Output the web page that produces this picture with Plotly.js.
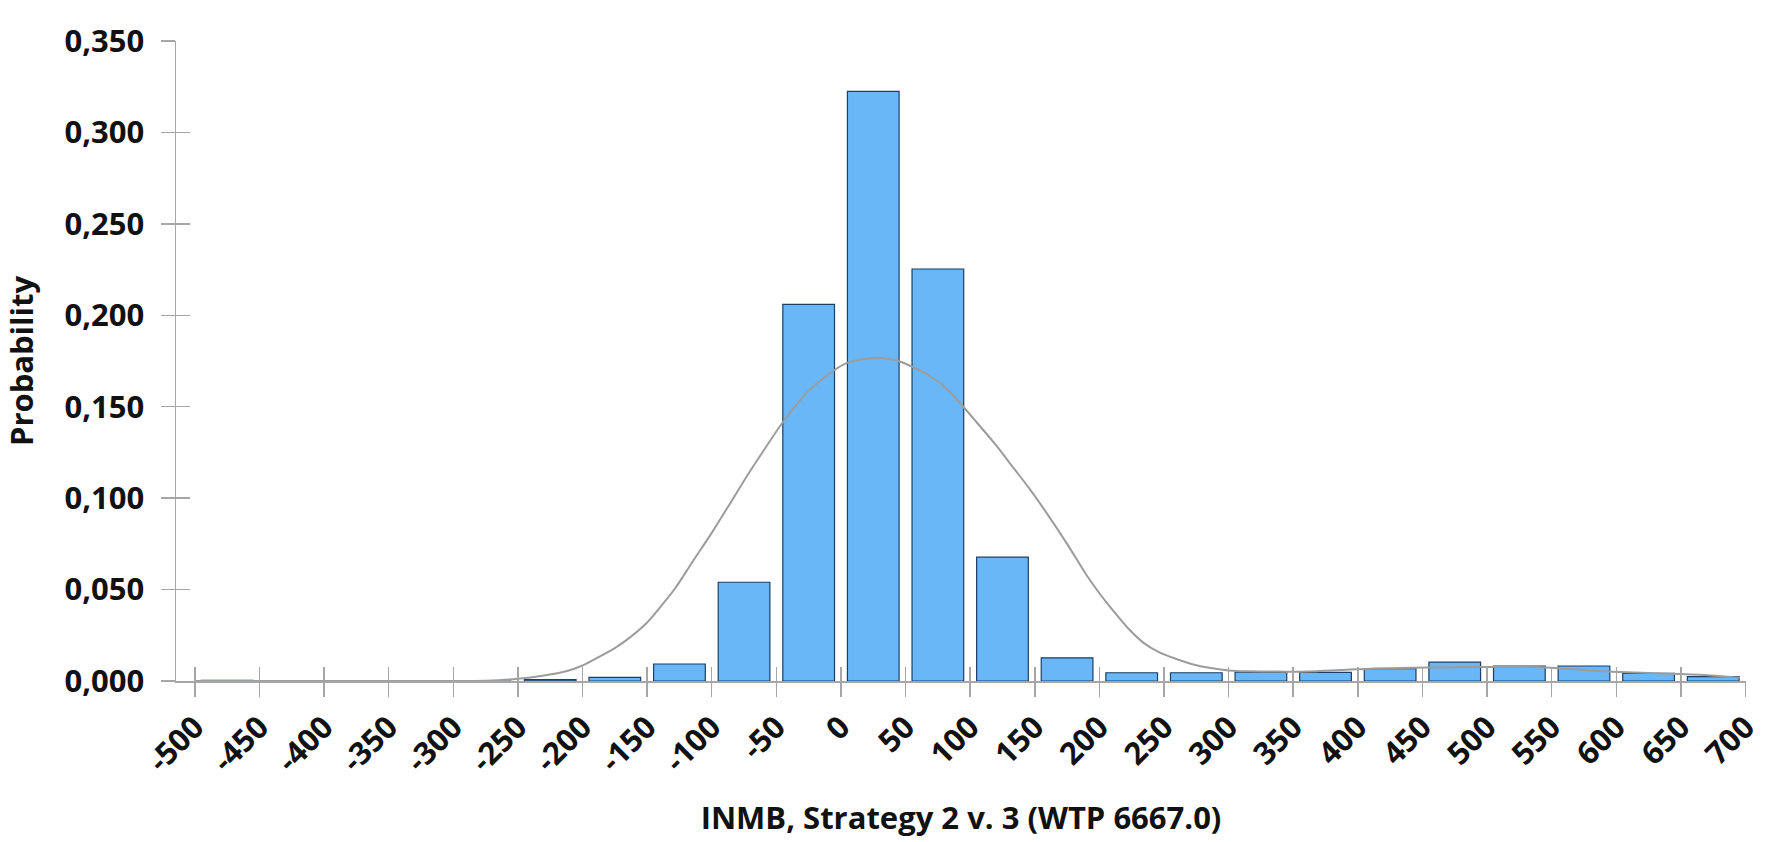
<!DOCTYPE html>
<html>
<head>
<meta charset="utf-8">
<script src="https://cdn.plot.ly/plotly-3.0.1.min.js"></script>
<style>html,body{margin:0;padding:0;background:#fff;}#chart{width:1768px;height:842px;}</style>
</head>
<body>
<div id="chart"></div>
<script>
// Histogram bins (centres) and probabilities
const binCenters = [-475,-425,-375,-325,-275,-225,-175,-125,-75,-25,25,75,125,175,225,275,325,375,425,475,525,575,625,675];
const probabilities = [0.0003,0,0,0,0,0.0007,0.002,0.0093,0.054,0.206,0.3225,0.2253,0.0677,0.0127,0.0045,0.0045,0.0049,0.0047,0.0067,0.0103,0.0082,0.0082,0.0042,0.0024];

// Fitted density curve
const curveX = [-500,-300,-275,-250,-230,-212,-200,-189,-175,-163,-150,-138,-128,-116,-100,-85,-71,-58,-45,-26,-10,3,15,28,42,56,68,80,95,105,120,133,145,160,175,190,200,210,222,234,246,259,272,285,300,315,330,345,362,387,413,452,490,516,549,574,597,631,650,676,695];
const curveY = [0,0,0.0002,0.0012,0.003,0.0055,0.0085,0.0125,0.018,0.024,0.032,0.042,0.051,0.064,0.081,0.098,0.114,0.128,0.1415,0.158,0.1675,0.1734,0.1758,0.1767,0.1755,0.1716,0.1672,0.161,0.1497,0.1415,0.129,0.117,0.106,0.091,0.075,0.058,0.048,0.039,0.029,0.021,0.0158,0.0122,0.0092,0.0072,0.0058,0.0053,0.0052,0.0051,0.0052,0.006,0.0068,0.0074,0.0076,0.0077,0.0073,0.006,0.0051,0.0042,0.0038,0.0029,0.0018];

// Axis ticks
const xTickVals = [-500,-450,-400,-350,-300,-250,-200,-150,-100,-50,0,50,100,150,200,250,300,350,400,450,500,550,600,650,700];
const xTickText = xTickVals.map(String);
const yTickVals = [0,0.05,0.1,0.15,0.2,0.25,0.3,0.35];
const yTickText = ['0,000','0,050','0,100','0,150','0,200','0,250','0,300','0,350'];

const FONT = 'Open Sans, Noto Sans, DejaVu Sans, sans-serif';
const xRange = [-514.6, 700.4];
const yRange = [0, 0.35];

const traces = [
  {
    type: 'bar', x: binCenters, y: probabilities, width: 40,
    marker: {color: '#69B7F7', line: {color: '#1B3F66', width: 1.2}},
    hoverinfo: 'x+y', showlegend: false
  },
  {
    type: 'scatter', mode: 'lines', x: curveX, y: curveY,
    line: {color: '#9C9C9C', width: 2, shape: 'spline', smoothing: 0.8},
    hoverinfo: 'skip', showlegend: false
  },
  {type: 'scatter', x: [], y: [], xaxis: 'x2', yaxis: 'y2', showlegend: false, hoverinfo: 'skip'}
];

const tickColor = '#A6A6A6';
const layout = {
  width: 1768, height: 842,
  margin: {l: 176, r: 22, t: 41, b: 161, pad: 0},
  paper_bgcolor: '#fff', plot_bgcolor: '#fff',
  font: {family: FONT, size: 31, color: '#111'},
  bargap: 0.2,
  xaxis: {
    range: xRange, tickmode: 'array', tickvals: xTickVals, ticktext: xTickText,
    tickangle: -45, ticks: 'outside', ticklen: 14, tickwidth: 1.5, tickcolor: tickColor,
    ticklabeloverflow: 'allow',
    showline: true, linecolor: tickColor, linewidth: 1.5, showgrid: false, zeroline: false,
    tickfont: {family: FONT, size: 31, color: '#111', weight: 'bold'},
    title: {text: 'INMB, Strategy 2 v. 3 (WTP 6667.0)', standoff: 28,
            font: {family: FONT, size: 31, color: '#111', weight: 'bold'}},
    fixedrange: true
  },
  yaxis: {
    range: yRange, tickmode: 'array', tickvals: yTickVals, ticktext: yTickText,
    ticks: 'outside', ticklen: 14, tickwidth: 1.5, tickcolor: tickColor,
    ticklabeloverflow: 'allow',
    showline: true, linecolor: tickColor, linewidth: 1.5, showgrid: false, zeroline: false,
    tickfont: {family: FONT, size: 31, color: '#111', weight: 'bold'},
    ticklabelstandoff: 10,
    title: {text: 'Probability', standoff: 24,
            font: {family: FONT, size: 31, color: '#111', weight: 'bold'}},
    fixedrange: true
  },
  xaxis2: {
    overlaying: 'x', anchor: 'y2', range: xRange, tickmode: 'array', tickvals: xTickVals,
    ticks: 'inside', ticklen: 14, tickwidth: 1.5, tickcolor: tickColor,
    showticklabels: false, showline: false, showgrid: false, zeroline: false, fixedrange: true
  },
  yaxis2: {
    overlaying: 'y', anchor: 'x2', range: yRange, tickmode: 'array', tickvals: yTickVals,
    ticks: 'inside', ticklen: 14, tickwidth: 1.5, tickcolor: tickColor,
    showticklabels: false, showline: false, showgrid: false, zeroline: false, fixedrange: true
  }
};

Plotly.newPlot('chart', traces, layout, {displayModeBar: false, staticPlot: true});
</script>
</body>
</html>
